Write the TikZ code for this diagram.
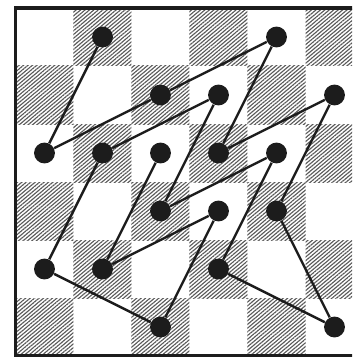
\documentclass[tikz,border=0pt]{standalone}
\usepackage{tikz}
\usetikzlibrary{patterns.meta}
\definecolor{inkblack}{RGB}{28, 28, 28}

\begin{document}
\begin{tikzpicture}[scale=1,
    spot/.style={circle, fill=inkblack, inner sep=0pt, minimum size=0.36cm},
    tour/.style={line width=1.2pt, inkblack},
    dark/.style={pattern={Lines[angle=40, distance=1.4pt, line width=0.55pt]}, pattern color=black!65}]
    \useasboundingbox (-0.267,-0.017) rectangle (5.802,6.138);
    \clip (-0.267,-0.017) rectangle (5.802,6.138);
    \fill[white] (-0.267,-0.017) rectangle (5.802,6.138);
    \foreach \i in {0,...,5}
      \foreach \j in {0,2,4}
        \fill[dark] ({\i},{\j+mod(\i,2)}) rectangle +(1,1);
    \draw[line width=1.6pt, inkblack] (0,0) rectangle (6,6);
    \node[spot] (b6) at (1.5,5.5) {};
    \node[spot] (e6) at (4.5,5.5) {};
    \node[spot] (c5) at (2.5,4.5) {};
    \node[spot] (d5) at (3.5,4.5) {};
    \node[spot] (f5) at (5.5,4.5) {};
    \node[spot] (a4) at (0.5,3.5) {};
    \node[spot] (b4) at (1.5,3.5) {};
    \node[spot] (c4) at (2.5,3.5) {};
    \node[spot] (d4) at (3.5,3.5) {};
    \node[spot] (e4) at (4.5,3.5) {};
    \node[spot] (c3) at (2.5,2.5) {};
    \node[spot] (d3) at (3.5,2.5) {};
    \node[spot] (e3) at (4.5,2.5) {};
    \node[spot] (a2) at (0.5,1.5) {};
    \node[spot] (b2) at (1.5,1.5) {};
    \node[spot] (d2) at (3.5,1.5) {};
    \node[spot] (c1) at (2.5,0.5) {};
    \node[spot] (f1) at (5.5,0.5) {};
    \draw[tour] (b6) -- (a4) -- (c5) -- (e6) -- (d4) -- (f5) -- (e3) -- (f1) -- (d2)
      -- (e4) -- (c3) -- (d5) -- (b4) -- (a2) -- (c1) -- (d3) -- (b2) -- (c4);
  \end{tikzpicture}
\end{document}
